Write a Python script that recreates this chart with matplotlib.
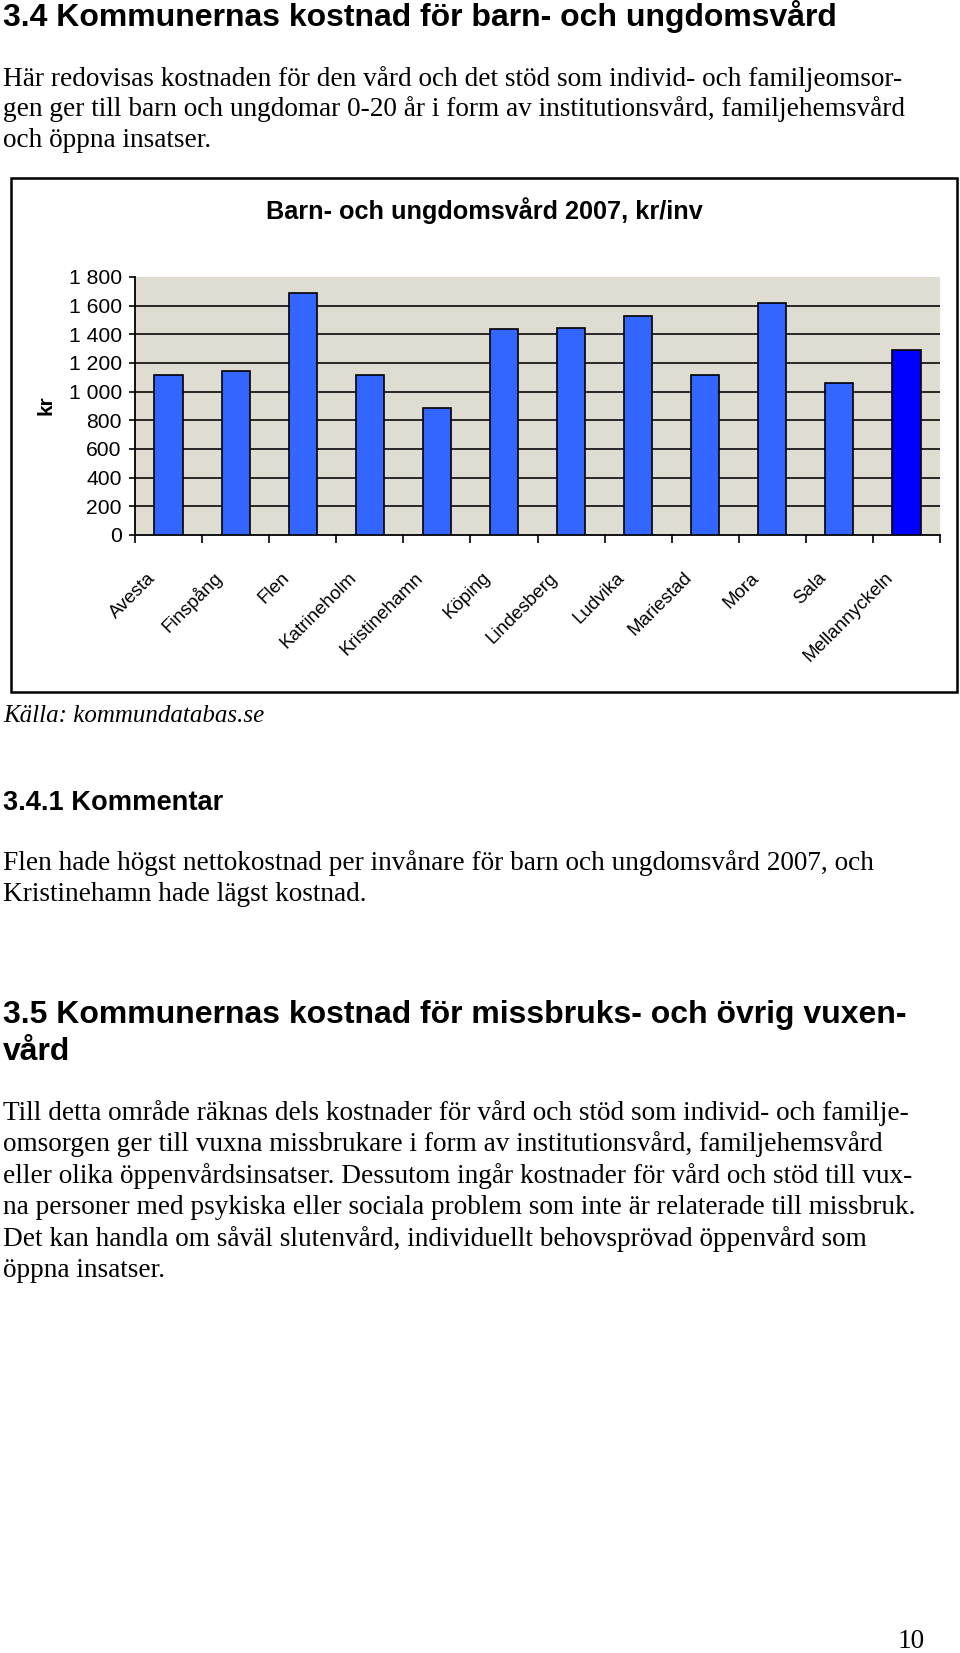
import matplotlib
matplotlib.use("Agg")
import matplotlib.pyplot as plt
from matplotlib.patches import Rectangle
from matplotlib.transforms import ScaledTranslation

# data
kommuner = ["Avesta", "Finspång", "Flen", "Katrineholm", "Kristinehamn", "Köping",
            "Lindesberg", "Ludvika", "Mariestad", "Mora", "Sala", "Mellannyckeln"]
kr_per_inv = [1116, 1141, 1690, 1116, 883, 1435, 1446, 1530, 1116, 1620, 1061, 1288]
bar_colors = ["#3366FF"] * 11 + ["#0000FF"]
y_ticks = [0, 200, 400, 600, 800, 1000, 1200, 1400, 1600, 1800]

W, H = 960, 1653
fig = plt.figure(figsize=(W / 100, H / 100), dpi=100)
fig.patch.set_facecolor("white")

SANS = "Liberation Sans"
SERIF = "Liberation Serif"
BODY = 19.6
HEAD = 23


def fx(x):
    return x / W


def fy(y):
    return 1 - y / H


def line(x, y, s, size=BODY, family=SERIF, **kw):
    fig.text(fx(x), fy(y), s, fontsize=size, family=family, va="baseline", ha="left", **kw)


# page text above chart
line(3, 26, "3.4 Kommunernas kostnad för barn- och ungdomsvård", size=HEAD, family=SANS,
     weight="bold")
para1 = [
    "Här redovisas kostnaden för den vård och det stöd som individ- och familjeomsor-",
    "gen ger till barn och ungdomar 0-20 år i form av institutionsvård, familjehemsvård",
    "och öppna insatser.",
]
for i, s in enumerate(para1):
    line(3, 86 + i * 30.5, s)

# chart frame
fig.patches.append(Rectangle((fx(11), fy(692)), fx(957) - fx(11), fy(178) - fy(692),
                             transform=fig.transFigure, fill=False, edgecolor="black",
                             linewidth=1.8))
fig.text(fx(484), fy(211), "Barn- och ungdomsvård 2007, kr/inv", fontsize=18.2, family=SANS,
         weight="bold", ha="center", va="center")
fig.text(fx(46), fy(405), "kr", fontsize=15, family=SANS, weight="bold", rotation=90,
         ha="center", va="center")

ax = fig.add_axes([fx(135), fy(535), fx(940) - fx(135), fy(277) - fy(535)])
ax.set_facecolor("#DFDCD2")
x = list(range(len(kommuner)))
ax.bar(x, kr_per_inv, width=0.42, color=bar_colors, edgecolor="black", linewidth=1.2, zorder=3)
ax.set_xlim(-0.5, len(kommuner) - 0.5)
ax.set_ylim(0, 1800)
ax.set_yticks(y_ticks)
ax.set_yticklabels([f"{v:,}".replace(",", " ") for v in y_ticks], fontsize=15.2, family=SANS)
for v in y_ticks[1:-1]:
    ax.axhline(v, color="#1a1a1a", linewidth=1.3, zorder=1)

for side in ["top", "right"]:
    ax.spines[side].set_visible(False)
for side in ["left", "bottom"]:
    ax.spines[side].set_linewidth(1.3)
    ax.spines[side].set_color("black")

ax.tick_params(axis="y", direction="out", length=4.5, width=1.2, pad=5)
ax.set_xticks([i - 0.5 for i in range(len(kommuner) + 1)], minor=True)
ax.tick_params(axis="x", which="minor", direction="out", length=6, width=1.2)
ax.set_xticks(x)
ax.set_xticklabels(kommuner, fontsize=13.5, family=SANS, rotation=45, ha="right",
                   va="center", rotation_mode="anchor")
ax.tick_params(axis="x", which="major", length=0, pad=29)
shift = ScaledTranslation(-16 / 100, 0, fig.dpi_scale_trans)
for lab in ax.get_xticklabels():
    lab.set_transform(lab.get_transform() + shift)

# text below chart
line(3, 722, "Källa: kommundatabas.se", size=18, style="italic")
line(3, 810, "3.4.1 Kommentar", size=BODY, family=SANS, weight="bold")
line(3, 870, "Flen hade högst nettokostnad per invånare för barn och ungdomsvård 2007, och")
line(3, 901, "Kristinehamn hade lägst kostnad.")

line(3, 1023, "3.5 Kommunernas kostnad för missbruks- och övrig vuxen-", size=HEAD, family=SANS,
     weight="bold")
line(3, 1060, "vård", size=HEAD, family=SANS, weight="bold")
para2 = [
    "Till detta område räknas dels kostnader för vård och stöd som individ- och familje-",
    "omsorgen ger till vuxna missbrukare i form av institutionsvård, familjehemsvård",
    "eller olika öppenvårdsinsatser. Dessutom ingår kostnader för vård och stöd till vux-",
    "na personer med psykiska eller sociala problem som inte är relaterade till missbruk.",
    "Det kan handla om såväl slutenvård, individuellt behovsprövad öppenvård som",
    "öppna insatser.",
]
for i, s in enumerate(para2):
    line(3, 1120 + i * 31.4, s)

line(898, 1648, "10")

fig.savefig("out.png", dpi=100)
